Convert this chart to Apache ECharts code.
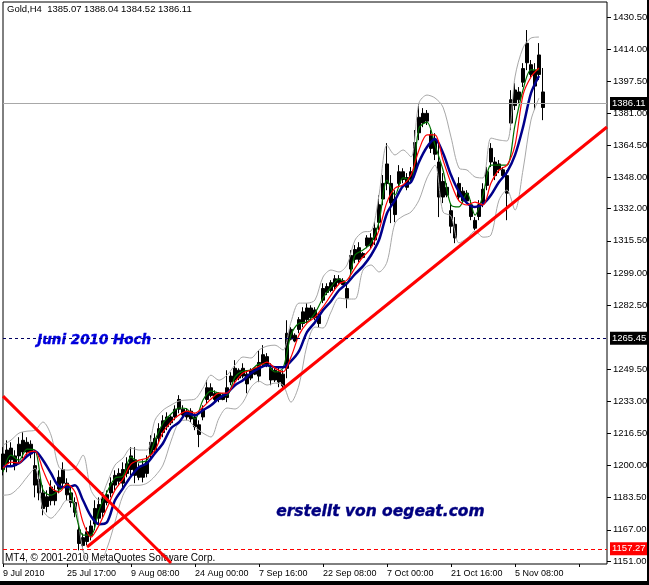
<!DOCTYPE html>
<html>
<head>
<meta charset="utf-8">
<title>Gold H4</title>
<script src="https://cdn.jsdelivr.net/npm/echarts@6/dist/echarts.min.js"></script>
<style>
html,body{margin:0;padding:0;background:#000;width:649px;height:585px;overflow:hidden}
#chart{width:647px;height:581px;background:#fff}
</style>
</head>
<body>
<div id="chart"></div>
<script>
// one category = 4 h-bars on the original chart, dates only every 16 categories
var timeLabels = ['9 Jul 2010','25 Jul 17:00','9 Aug 08:00','24 Aug 00:00','7 Sep 16:00','22 Sep 08:00','7 Oct 00:00','21 Oct 16:00','5 Nov 08:00'];
var priceTicks = [1430.5,1414,1397.5,1381,1364.5,1348,1332,1315.5,1299,1282.5,1249.5,1233,1216.5,1200,1183.5,1167,1151];

var opens = [1198,1201,1203,1200,1205,1207,1207,1206,1190,1186,1178,1179,1182,1182,1188,1191,1185,1181,1176,1160,1159,1161,1164,1170,1173,1176,1181,1186,1190,1192,1191,1196,1198,1195,1194,1194,1196,1206,1208,1214,1217,1220,1222,1225,1229,1226,1225,1224,1220,1216,1225,1234,1236,1234,1234,1234,1235,1243,1244,1245,1246,1242,1245,1247,1246,1252,1252,1244,1244,1243,1241,1250,1265,1264,1270,1273,1275,1276,1276,1273,1285,1289,1290,1292,1294,1293,1286,1301,1306,1306,1307,1313,1313,1316,1325,1337,1345,1335,1329,1345,1347,1343,1347,1352,1371,1376,1377,1363,1360,1338,1338,1339,1323,1317,1338,1336,1336,1328,1322,1328,1335,1344,1356,1349,1352,1349,1340,1376,1385,1388,1397,1407,1401,1395,1401,1384];
var closes = [1206,1208,1209,1205,1211,1213,1212,1211,1200,1193,1186,1184,1189,1187,1194,1198,1191,1186,1181,1167,1163,1166,1169,1178,1180,1183,1185,1191,1195,1196,1198,1201,1205,1203,1199,1200,1202,1212,1214,1219,1223,1225,1225,1229,1234,1229,1228,1228,1225,1221,1229,1240,1240,1237,1237,1236,1240,1246,1250,1249,1250,1247,1249,1250,1253,1257,1256,1250,1249,1248,1247,1268,1270,1267,1275,1279,1281,1281,1280,1277,1291,1292,1294,1296,1296,1295,1291,1308,1311,1312,1309,1317,1317,1322,1334,1345,1355,1345,1337,1351,1351,1348,1351,1366,1379,1381,1381,1370,1367,1356,1346,1343,1331,1324,1345,1341,1340,1334,1326,1334,1342,1351,1363,1356,1355,1352,1349,1388,1393,1392,1404,1417,1406,1403,1411,1392];
var lows = [1195,1196.6,1199.7,1197.6,1201.2,1203.8,1205.3,1203.8,1183.7,1182.2,1174.5,1176,1179.6,1179.6,1185.8,1188.9,1182.2,1178.6,1173.5,1156.5,1156.5,1159.1,1161.6,1166.8,1170.4,1173.5,1179.6,1183.7,1187.3,1189.9,1188.4,1194,1195,1191,1192.5,1191.4,1194,1203.8,1206.4,1211.5,1214.6,1218.2,1220.8,1223.3,1226.9,1224.9,1223.3,1222.3,1218.2,1209.5,1223.3,1232.1,1235.1,1232.6,1232.6,1233.6,1232.6,1241.3,1242.3,1243.9,1244.9,1237.2,1243.9,1246.5,1242.9,1250.6,1250.6,1241.3,1242.9,1240.3,1238.7,1244.9,1264.4,1263.4,1268,1271.1,1273.2,1274.7,1274.7,1271.1,1283.5,1287.6,1289.1,1290.1,1292.7,1292.7,1280.9,1298.9,1304,1304.5,1306.6,1311.7,1311.7,1313.3,1321,1333.8,1341.5,1324.6,1325.1,1343.1,1345.1,1341.5,1345.1,1348.2,1367.2,1373.9,1375,1360.6,1357,1327.7,1334.9,1337.9,1319.4,1314.3,1336.4,1334.9,1334.9,1326.1,1321,1326.1,1332.8,1341.5,1353.4,1346.7,1350.3,1348.2,1326.1,1372.4,1382.7,1386.3,1394.5,1403.2,1399.6,1382.7,1398.1,1377.5];
var highs = [1209.5,1213,1212,1207.9,1214.6,1217.2,1214.6,1213,1207.9,1197.6,1189.9,1187.3,1192.5,1189.9,1197.6,1201.7,1193.5,1188.9,1183.7,1170.4,1165.2,1168.3,1171.9,1182.2,1183.7,1186.3,1187.3,1194,1197.6,1198.6,1201.7,1204.3,1209.5,1209.5,1201.2,1202.8,1205.3,1215.6,1216.6,1221.8,1225.9,1227.4,1225.9,1231,1236.2,1231,1229.5,1229.5,1226.9,1223.3,1231,1243.9,1242.3,1238.7,1237.7,1237.2,1249,1248,1254.2,1250,1252.6,1249,1250,1250.6,1259.3,1261.9,1257.8,1252.6,1250.6,1250.6,1249,1274.7,1271.1,1268,1276.3,1281.4,1283.5,1282.4,1281.4,1278.3,1293.7,1293.7,1295.3,1297.9,1297.9,1296.3,1293.7,1310.7,1313.3,1314.8,1309.7,1318.4,1319.4,1325.1,1338.9,1349.3,1365.7,1349.3,1341.5,1354.4,1352.8,1350.3,1353.4,1372.4,1386.3,1383.7,1382.7,1372.4,1370.8,1365.7,1350.3,1345.1,1334.9,1327.7,1348.2,1343.1,1341.5,1336.4,1327.7,1336.4,1345.1,1353.4,1365.7,1358.5,1357,1353.4,1351.8,1392.9,1396.5,1394.5,1406.8,1423.8,1408.4,1406.8,1417.1,1404.3];

// indicators, one value every 2 categories
var maSlow = [1199.7,1199.7,1201.2,1204.8,1207.4,1202.8,1196.1,1189.4,1188.9,1189.9,1182.2,1174,1169.9,1170.9,1182.2,1188.4,1194.6,1199.2,1201.2,1206.4,1211.5,1219.2,1222.3,1226.9,1225.9,1228.5,1231,1234.6,1237.2,1241.3,1243.9,1247.5,1250,1251.6,1250.6,1250.6,1253.7,1258.8,1268.6,1273.7,1279.9,1284.5,1290.1,1293.7,1298.4,1302.5,1308.1,1315.9,1329.7,1336.4,1343.6,1345.7,1356,1363.7,1367.8,1360.6,1349.3,1340.6,1334.9,1332.9,1334.4,1339,1345.7,1350.8,1359.5,1373.9,1391.4,1400.2];
var maMid = [1198.7,1201.8,1201.3,1206.4,1207.5,1197.7,1188.9,1186.4,1190.5,1186.4,1171,1163.3,1169.4,1178.2,1187.4,1193.1,1200.8,1202.8,1203.9,1208,1217.2,1222.4,1226,1228,1227,1230.1,1234.2,1237.3,1237.3,1242.9,1247.6,1249.1,1251.1,1253.2,1250.1,1248.1,1255.8,1267.1,1273.2,1276.3,1281.5,1287.6,1293.3,1295.3,1301.5,1307.2,1311.8,1321,1335.4,1342.6,1344.2,1349.3,1362.2,1369.9,1369.9,1357,1345.2,1336,1333.9,1335.4,1333.9,1345.2,1351.9,1354.4,1364.7,1390.4,1399.7,1404.3];
var maFast = [1196.7,1205.4,1202.8,1208.5,1208,1187.4,1184.8,1187.4,1189.9,1177.1,1164.3,1164.3,1177.1,1186.4,1193.6,1194.6,1204.4,1201.8,1202.8,1213.1,1221.8,1226.5,1229.6,1229.1,1223.9,1233.7,1238.3,1237.3,1236.2,1245.5,1248.6,1249.1,1252.2,1251.7,1248.1,1250.1,1267.1,1273.2,1273.8,1278.4,1286.1,1291.7,1295.9,1293.8,1308.2,1310.8,1314.4,1325.2,1346.7,1339,1347.8,1346.7,1373.5,1376.5,1364.7,1351.9,1333.9,1332.9,1340,1328.7,1339,1354.4,1354.4,1354.4,1375,1393,1403.3,1403.3];
var bandUpper = [1210.5,1213.1,1216.7,1217.7,1218.2,1222.4,1215.7,1199.2,1197.7,1198.7,1205.4,1187.4,1182.3,1191,1200.3,1203.9,1209,1208,1208,1223.4,1228.5,1231.1,1233.2,1233.7,1234.2,1239.8,1246.5,1243.9,1246.5,1251.7,1255.8,1255.3,1259.4,1261.4,1261.9,1259.4,1273.8,1283.5,1283.5,1285.1,1296.9,1300.5,1299.5,1303.1,1315.9,1320,1320.5,1339,1364.7,1359.6,1362.2,1358.6,1386.3,1390.4,1388.9,1384.2,1368.8,1352.9,1351.9,1348.3,1347.8,1368.3,1367.3,1366.8,1399.7,1414.6,1419.7,1420.2];
var bandLower = [1184.8,1185.4,1188.9,1194.1,1198.7,1177.1,1173,1177.1,1182.3,1180.7,1156.6,1149.9,1149.9,1157.6,1171,1184.8,1189.9,1189.9,1191,1194.6,1200.3,1212.6,1222.4,1223.4,1219.8,1216.7,1214.7,1224.4,1229.6,1229.1,1232.6,1240.3,1243.4,1241.4,1242.4,1241.4,1232.6,1241.4,1261.9,1271.2,1270.7,1278.9,1286.1,1285.6,1285.6,1300.5,1303.1,1299.5,1304.6,1324.6,1328.2,1330.3,1336.4,1347.8,1354.4,1330.3,1328.2,1314.4,1316.9,1320.5,1317.4,1318.5,1336.4,1341.6,1331.3,1351.9,1377.6,1388.9];

// drawn trend lines [category, price]
var trendUp = [[21,1158.2],[151,1374]];
var trendDown = [[0,1235.7],[42,1150]];

var lastPrice = 1386.11, juneHigh = 1265.45, bottomLevel = 1157.27;

var axisFont = '"Liberation Sans",sans-serif';

var categories = [];
for (var i = 0; i < 152; i++) {
    categories.push(timeLabels[i / 16] || '');
}
function everySecond(values) {
    return values.map(function (v, k) { return [k * 2, v]; });
}
function priceLine(value, color, dash, boxColor) {
    return {
        yAxis: value,
        lineStyle: {color: color, type: dash, width: 1, opacity: 1},
        label: {
            show: true, position: 'end', distance: 3,
            formatter: value.toFixed(2),
            color: '#fff', backgroundColor: boxColor, padding: [2, 2, 1, 2],
            fontFamily: axisFont, fontSize: 9.5
        }
    };
}
function indicator(values, color, width) {
    return {
        type: 'line', data: everySecond(values), showSymbol: false, symbol: 'none', smooth: 0.3,
        lineStyle: {color: color, width: width}, silent: true
    };
}

var option = {
    animation: false,
    backgroundColor: '#fff',
    grid: {left: 3, top: 2, right: 40, bottom: 17, outerBoundsMode: 'none', show: true, borderColor: '#000', borderWidth: 1, backgroundColor: '#fff'},
    xAxis: {
        type: 'category', data: categories, boundaryGap: false,
        axisLine: {show: false},
        axisTick: {show: true, length: 3, interval: 15, lineStyle: {color: '#000'}},
        axisLabel: {show: true, interval: 15, align: 'left', margin: 5, color: '#000', fontFamily: axisFont, fontSize: 9},
        splitLine: {show: false}
    },
    yAxis: {
        type: 'value', position: 'right', min: 1149.46, max: 1438.21, scale: true,
        axisLine: {show: false},
        axisTick: {show: true, length: 4, customValues: priceTicks, lineStyle: {color: '#000'}},
        axisLabel: {
            show: true, margin: 6, color: '#000', fontFamily: axisFont, fontSize: 9.5,
            customValues: priceTicks,
            formatter: function (v) { return v.toFixed(2); }
        },
        splitLine: {show: false}
    },
    series: [
        {
            type: 'candlestick', barWidth: 4, silent: true,
            data: opens.map(function (o, k) { return [o, closes[k], lows[k], highs[k]]; }),
            itemStyle: {color: '#000', color0: '#000', borderColor: '#000', borderColor0: '#000', borderWidth: 1},
            markLine: {
                silent: true, symbol: 'none', animation: false,
                data: [
                    priceLine(lastPrice, '#a8a8a8', 'solid', '#000'),
                    priceLine(juneHigh, '#000060', [3, 3], '#000'),
                    priceLine(bottomLevel, '#ff0000', [4, 3], '#f00')
                ]
            }
        },
        indicator(bandUpper, '#a8a8a8', 1),
        indicator(bandLower, '#a8a8a8', 1),
        indicator(maFast, '#007000', 1.2),
        indicator(maSlow, '#00008b', 2.5),
        indicator(maMid, '#ff0000', 1.2),
        {type: 'line', data: trendUp, symbol: 'none', lineStyle: {color: '#ff0000', width: 3}, silent: true},
        {type: 'line', data: trendDown, symbol: 'none', lineStyle: {color: '#ff0000', width: 3}, silent: true}
    ],
    graphic: [
        {type: 'text', left: 7, top: 4, style: {text: 'Gold,H4  1385.07 1388.04 1384.52 1386.11', font: '9.5px ' + axisFont, fill: '#000'}},
        {type: 'text', left: 5, top: 553, style: {text: 'MT4, \u00a9 2001-2010 MetaQuotes Software Corp.', font: '10px ' + axisFont, fill: '#000'}},
        {type: 'text', left: 37, top: 333, style: {text: 'Juni 2010 Hoch', font: 'italic bold 13.5px "DejaVu Sans"', fill: '#0000dd', stroke: '#0000dd', lineWidth: 0.4}},
        {type: 'text', left: 276, top: 504, style: {text: 'erstellt von oegeat.com', font: 'italic bold 15.5px "DejaVu Sans"', fill: '#000080', stroke: '#000080', lineWidth: 0.4}}
    ]
};

var chart = echarts.init(document.getElementById('chart'));
chart.setOption(option);
</script>
</body>
</html>
